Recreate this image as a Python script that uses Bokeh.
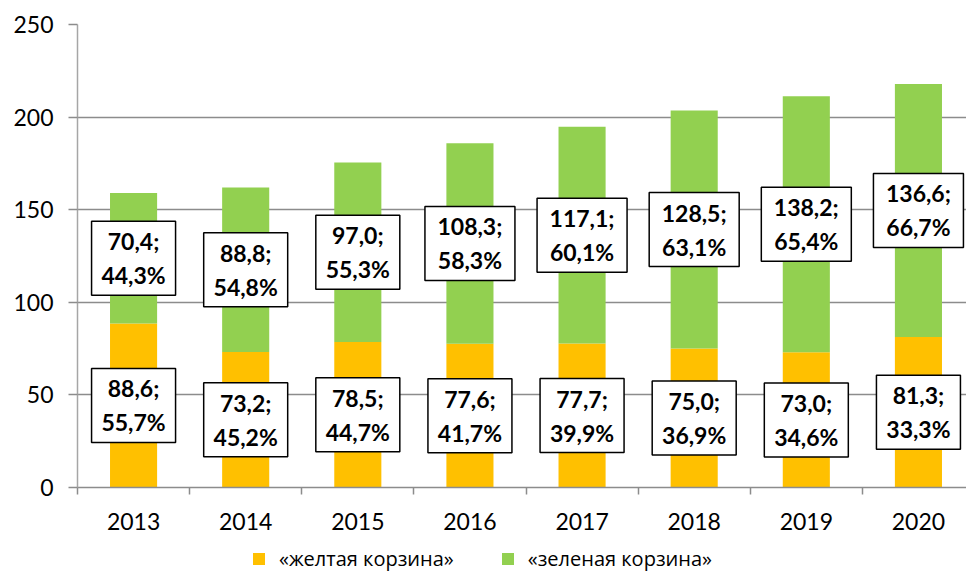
from bokeh.plotting import figure
from bokeh.layouts import column
from bokeh.models import ColumnDataSource, Range1d, FixedTicker, Legend, LegendItem
from bokeh.core.properties import value
from bokeh.embed import file_html
from bokeh.resources import INLINE

years = ["2013", "2014", "2015", "2016", "2017", "2018", "2019", "2020"]
yellow = [88.6, 73.2, 78.5, 77.6, 77.7, 75.0, 73.0, 81.3]
green = [70.4, 88.8, 97.0, 108.3, 117.1, 128.5, 138.2, 136.6]
yellow_pct = ["55,7%", "45,2%", "44,7%", "41,7%", "39,9%", "36,9%", "34,6%", "33,3%"]
green_pct = ["44,3%", "54,8%", "55,3%", "58,3%", "60,1%", "63,1%", "65,4%", "66,7%"]
y_ticks = [0, 50, 100, 150, 200, 250]
series_names = ["«желтая корзина»", "«зеленая корзина»"]

YELLOW = "#FFC000"
GREEN = "#92D050"

xs = [i + 0.5 for i in range(len(years))]
tops = [a + b for a, b in zip(yellow, green)]


def fmt(v):
    return f"{v:.1f}".replace(".", ",") + ";"


src = ColumnDataSource(dict(
    x=xs, yellow=yellow, green=green, top=tops,
    ylab1=[fmt(v) for v in yellow], ylab2=yellow_pct,
    ymid=[v / 2 for v in yellow],
    glab1=[fmt(v) for v in green], glab2=green_pct,
    gmid=[a + b / 2 for a, b in zip(yellow, green)],
    yw=[84 if max(len(fmt(v)), len(p)) <= 5 else 90 for v, p in zip(yellow, yellow_pct)],
    gw=[84 if max(len(fmt(v)), len(p)) <= 5 else 90 for v, p in zip(green, green_pct)],
))

p = figure(width=966, height=540, output_backend="svg", toolbar_location=None,
           x_range=Range1d(0, 8 * 889 / 897), y_range=Range1d(0, 250),
           min_border_left=77, min_border_right=0, min_border_top=24, min_border_bottom=53)
p.outline_line_color = None
p.background_fill_color = "white"
p.border_fill_color = "white"

r_y = p.vbar(x="x", top="yellow", bottom=0, width=0.42, source=src, fill_color=YELLOW, line_color=None)
r_g = p.vbar(x="x", top="top", bottom="yellow", width=0.42, source=src, fill_color=GREEN, line_color=None)

# label boxes
for mid, w, l1, l2 in (("ymid", "yw", "ylab1", "ylab2"), ("gmid", "gw", "glab1", "glab2")):
    p.rect(x="x", y=mid, width=w, height=74, width_units="screen", height_units="screen",
           source=src, fill_color="white", line_color="black", line_width=1.5)
    p.text(x="x", y=mid, text=l1, source=src, y_offset=-17, text_align="center",
           text_baseline="middle", text_font=value("Lato"), text_font_style="bold",
           text_font_size="23px", text_color="black")
    p.text(x="x", y=mid, text=l2, source=src, y_offset=17, text_align="center",
           text_baseline="middle", text_font=value("Lato"), text_font_style="bold",
           text_font_size="23px", text_color="black")

# y axis
p.yaxis.ticker = FixedTicker(ticks=y_ticks)
p.yaxis.axis_line_color = "#a6a6a6"
p.yaxis.axis_line_width = 1.5
p.yaxis.major_tick_line_color = "#8c8c8c"
p.yaxis.major_tick_line_width = 1.5
p.yaxis.major_tick_out = 9
p.yaxis.major_tick_in = 0
p.yaxis.minor_tick_line_color = None
p.yaxis.major_label_text_font = "Lato"
p.yaxis.major_label_text_font_size = "23px"
p.yaxis.major_label_text_color = "black"
p.yaxis.major_label_standoff = 15

# x axis
p.xaxis.ticker = FixedTicker(ticks=xs, minor_ticks=list(range(len(years) + 1)))
p.xaxis.major_label_overrides = {x: y for x, y in zip(xs, years)}
p.xaxis.axis_line_color = "#8c8c8c"
p.xaxis.axis_line_width = 1.5
p.xaxis.major_tick_line_color = None
p.xaxis.major_tick_out = 7
p.xaxis.major_tick_in = 0
p.xaxis.minor_tick_line_color = "#8c8c8c"
p.xaxis.minor_tick_line_width = 1.5
p.xaxis.minor_tick_out = 7
p.xaxis.minor_tick_in = 0
p.xaxis.major_label_text_font = "Lato"
p.xaxis.major_label_text_font_size = "23px"
p.xaxis.major_label_text_color = "black"
p.xaxis.major_label_standoff = 18

p.xgrid.grid_line_color = None
p.ygrid.ticker = FixedTicker(ticks=y_ticks)
p.ygrid.grid_line_color = "#8c8c8c"
p.ygrid.grid_line_width = 1.5

# legend strip (separate small figure so the legend is not clipped)
leg = figure(width=966, height=32, output_backend="svg", toolbar_location=None,
             x_range=Range1d(0, 1), y_range=Range1d(0, 1),
             x_axis_location=None, y_axis_location=None,
             min_border_left=0, min_border_right=0, min_border_top=0, min_border_bottom=0)
leg.grid.grid_line_color = None
leg.outline_line_color = None
leg_src = ColumnDataSource(dict(x=[-5.0], top=[0.0]))
ly = leg.vbar(x="x", top="top", width=0.1, source=leg_src, fill_color=YELLOW, line_color=None)
lg = leg.vbar(x="x", top="top", width=0.1, source=leg_src, fill_color=GREEN, line_color=None)

legend = Legend(items=[LegendItem(label=series_names[0], renderers=[ly], index=0),
                       LegendItem(label=series_names[1], renderers=[lg], index=0)],
                orientation="horizontal", location=(174, 0))
legend.label_text_font = "Open Sans"
legend.label_text_font_size = "20px"
legend.label_text_color = "black"
legend.glyph_width = 15
legend.glyph_height = 15
legend.label_standoff = 13
legend.spacing = 46
legend.border_line_color = None
legend.background_fill_alpha = 0
legend.padding = 2
legend.margin = 0
leg.add_layout(legend, "center")

layout = column(p, leg, spacing=0)
open("out.html", "w").write(file_html(layout, INLINE))
